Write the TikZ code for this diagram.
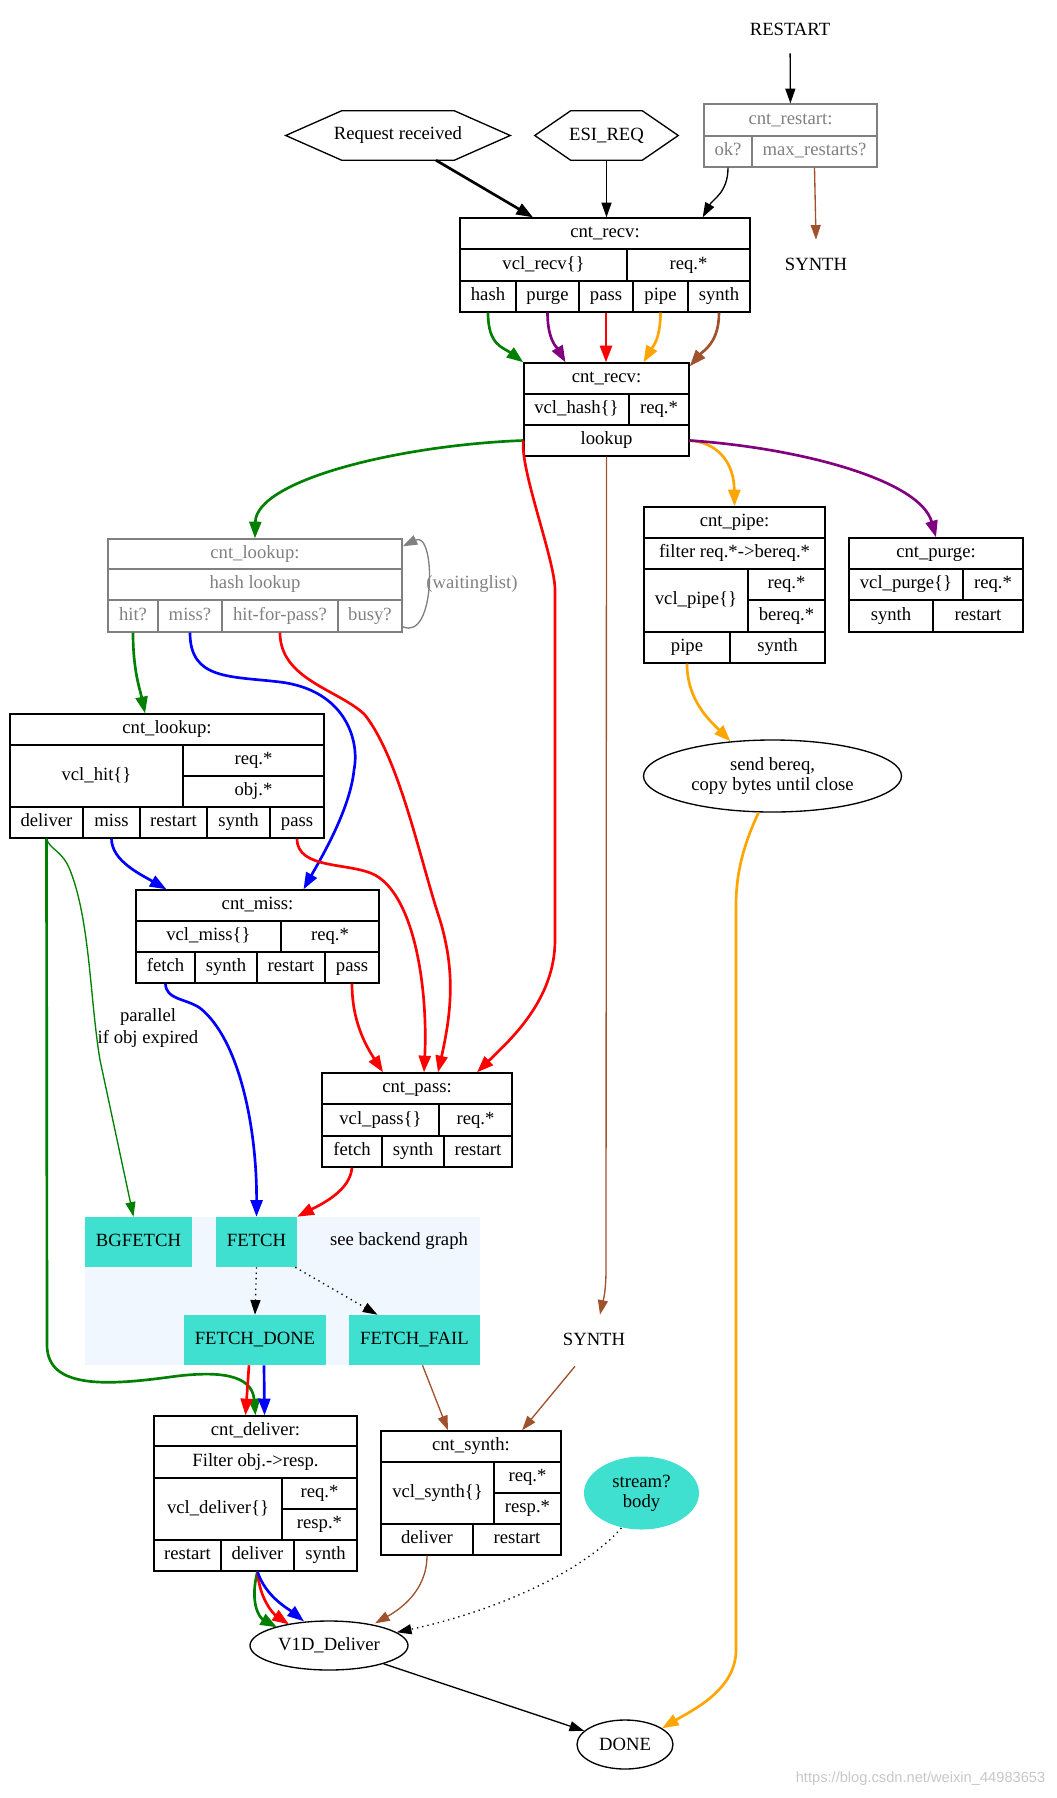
\documentclass[tikz,border=0pt]{standalone}
\usepackage{fontspec}
\setmainfont{Liberation Serif}
\newfontfamily\wmfont{Liberation Sans}
\usetikzlibrary{arrows.meta, calc, shapes.geometric}

\definecolor{vgreen}{RGB}{0,128,0}
\definecolor{vpurple}{RGB}{128,0,128}
\definecolor{vorange}{RGB}{255,165,0}
\definecolor{vbrown}{RGB}{160,82,45}
\definecolor{vturq}{RGB}{64,224,208}
\definecolor{vbg}{RGB}{240,247,255}
\definecolor{vgray}{RGB}{128,128,128}

% one record field, given by its corners: [style]{name}{x1}{y1}{x2}{y2}{text}
\newcommand{\fieldbox}[7][field]{%
  \node[#1, minimum width={(#5-#3)*0.75bp}, minimum height={(#6-#4)*0.75bp}]
    (#2) at ({(#3+#5)/2},{(#4+#6)/2}) {#7};}

\begin{document}
\begin{tikzpicture}[x=0.75bp, y=-0.75bp,
  every node/.style={font=\fontsize{14bp}{16bp}\selectfont},
  field/.style={draw, rectangle, inner sep=0pt, line width=1bp, text height=9.5bp, text depth=3bp},
  gfield/.style={field, draw=vgray, text=vgray},
  fbox/.style={fill=vturq, inner sep=0pt, text height=9.5bp, text depth=3bp},
  plain/.style={inner sep=0pt, minimum height=36bp},
  oval/.style={draw, ellipse, inner sep=0pt, line width=1bp, align=center,
    font=\fontsize{14bp}{15bp}\selectfont},
  flow/.style={line width=1bp, -{Triangle[length=11bp,width=7.5bp]}},
  heavy/.style={line width=2bp, -{Triangle[length=12.5bp,width=9bp]}},
  dots/.style={dash pattern=on 1bp off 3bp},
]
\useasboundingbox (0,0) rectangle (1057,1798);

% entry points
\node[plain] (restart) at (790,29) {RESTART};
\node[plain] (synthA) at (816,264) {SYNTH};
\node[inner sep=0pt, minimum width=168bp, minimum height=36.75bp] (reqrcv) at (398,135.5) {Request received};
\draw[line width=1bp] (reqrcv.west) -- ($(reqrcv.north west)+(56,0)$) -- ($(reqrcv.north east)+(-56,0)$)
  -- (reqrcv.east) -- ($(reqrcv.south east)+(-56,0)$) -- ($(reqrcv.south west)+(56,0)$) -- cycle;
\node[inner sep=0pt, minimum width=107.25bp, minimum height=36.75bp] (esireq) at (606.5,135.5) {ESI\_REQ};
\draw[line width=1bp] (esireq.west) -- ($(esireq.north west)+(36,0)$) -- ($(esireq.north east)+(-36,0)$)
  -- (esireq.east) -- ($(esireq.south east)+(-36,0)$) -- ($(esireq.south west)+(36,0)$) -- cycle;

% cnt_restart
\fieldbox[gfield]{rs-title}{704}{104}{877}{136}{cnt\_restart:}
\fieldbox[gfield]{rs-ok}{704}{136}{752}{167}{ok?}
\fieldbox[gfield]{rs-max}{752}{136}{877}{167}{max\_restarts?}

% cnt_recv
\fieldbox{rv-title}{460}{218}{750}{249}{cnt\_recv:}
\fieldbox{rv-vcl}{460}{249}{627}{281}{vcl\_recv\{\}}
\fieldbox{rv-req}{627}{249}{750}{281}{req.*}
\fieldbox{rv-hash}{460}{281}{516}{312}{hash}
\fieldbox{rv-purge}{516}{281}{579}{312}{purge}
\fieldbox{rv-pass}{579}{281}{633}{312}{pass}
\fieldbox{rv-pipe}{633}{281}{688}{312}{pipe}
\fieldbox{rv-synth}{688}{281}{750}{312}{synth}

% cnt_recv, hash
\fieldbox{hs-title}{524}{363}{689}{394}{cnt\_recv:}
\fieldbox{hs-vcl}{524}{394}{629}{425}{vcl\_hash\{\}}
\fieldbox{hs-req}{629}{394}{689}{425}{req.*}
\fieldbox{hs-lookup}{524}{425}{689}{456}{lookup}

% cnt_lookup (hash lookup)
\fieldbox[gfield]{lk-title}{108}{539}{402}{569}{cnt\_lookup:}
\fieldbox[gfield]{lk-hash}{108}{569}{402}{600}{hash lookup}
\fieldbox[gfield]{lk-hit}{108}{600}{158}{632}{hit?}
\fieldbox[gfield]{lk-miss}{158}{600}{222}{632}{miss?}
\fieldbox[gfield]{lk-hfp}{222}{600}{338}{632}{hit-for-pass?}
\fieldbox[gfield]{lk-busy}{338}{600}{402}{632}{busy?}
\node[text=vgray] (waitlbl) at (472,584) {(waitinglist)};

% cnt_lookup (vcl_hit)
\fieldbox{ht-title}{10}{714}{324}{745}{cnt\_lookup:}
\fieldbox{ht-vcl}{10}{745}{183}{807}{vcl\_hit\{\}}
\fieldbox{ht-req}{183}{745}{324}{776}{req.*}
\fieldbox{ht-obj}{183}{776}{324}{807}{obj.*}
\fieldbox{ht-deliver}{10}{807}{83}{838}{deliver}
\fieldbox{ht-miss}{83}{807}{140}{838}{miss}
\fieldbox{ht-restart}{140}{807}{207}{838}{restart}
\fieldbox{ht-synth}{207}{807}{270}{838}{synth}
\fieldbox{ht-pass}{270}{807}{324}{838}{pass}

% cnt_miss
\fieldbox{ms-title}{136}{890}{379}{921}{cnt\_miss:}
\fieldbox{ms-vcl}{136}{921}{281}{952}{vcl\_miss\{\}}
\fieldbox{ms-req}{281}{921}{379}{952}{req.*}
\fieldbox{ms-fetch}{136}{952}{195}{983}{fetch}
\fieldbox{ms-synth}{195}{952}{257}{983}{synth}
\fieldbox{ms-restart}{257}{952}{325}{983}{restart}
\fieldbox{ms-pass}{325}{952}{379}{983}{pass}

% cnt_pass
\fieldbox{ps-title}{322}{1073}{512}{1104}{cnt\_pass:}
\fieldbox{ps-vcl}{322}{1104}{439}{1136}{vcl\_pass\{\}}
\fieldbox{ps-req}{439}{1104}{512}{1136}{req.*}
\fieldbox{ps-fetch}{322}{1136}{382}{1167}{fetch}
\fieldbox{ps-synth}{382}{1136}{444}{1167}{synth}
\fieldbox{ps-restart}{444}{1136}{512}{1167}{restart}

% cnt_pipe
\fieldbox{pp-title}{644}{507}{825}{538}{cnt\_pipe:}
\fieldbox{pp-filter}{644}{538}{825}{569}{filter req.*->bereq.*}
\fieldbox{pp-vcl}{644}{569}{748}{632}{vcl\_pipe\{\}}
\fieldbox{pp-req}{748}{569}{825}{600}{req.*}
\fieldbox{pp-bereq}{748}{600}{825}{632}{bereq.*}
\fieldbox{pp-pipe}{644}{632}{730}{663}{pipe}
\fieldbox{pp-synth}{730}{632}{825}{663}{synth}
\node[oval, minimum width=193.5bp, minimum height=54bp] (sendbq) at (772.5,776) {send bereq,\\copy bytes until close};

% cnt_purge
\fieldbox{pg-title}{849}{538}{1023}{569}{cnt\_purge:}
\fieldbox{pg-vcl}{849}{569}{963}{600}{vcl\_purge\{\}}
\fieldbox{pg-req}{963}{569}{1023}{600}{req.*}
\fieldbox{pg-synth}{849}{600}{933}{632}{synth}
\fieldbox{pg-restart}{933}{600}{1023}{632}{restart}

% backend cluster
\fill[vbg] (85,1217) rectangle (480,1365);
\fieldbox[fbox]{bgfetch}{85}{1217}{192}{1267}{BGFETCH}
\fieldbox[fbox]{fetch}{216}{1217}{297}{1267}{FETCH}
\fieldbox[fbox]{fdone}{184}{1315}{326}{1365}{FETCH\_DONE}
\fieldbox[fbox]{ffail}{349}{1315}{480}{1365}{FETCH\_FAIL}
\node (seebk) at (399,1241) {see backend graph};
\node[plain] (synthB) at (594,1339) {SYNTH};
\node[align=center, font=\fontsize{14bp}{16.5bp}\selectfont] (parlbl) at (148,1028) {parallel\\if obj expired};

% cnt_deliver
\fieldbox{dl-title}{154}{1416}{357}{1446}{cnt\_deliver:}
\fieldbox{dl-filter}{154}{1446}{357}{1478}{Filter obj.->resp.}
\fieldbox{dl-vcl}{154}{1478}{282}{1540}{vcl\_deliver\{\}}
\fieldbox{dl-req}{282}{1478}{357}{1509}{req.*}
\fieldbox{dl-resp}{282}{1509}{357}{1540}{resp.*}
\fieldbox{dl-restart}{154}{1540}{221}{1571}{restart}
\fieldbox{dl-deliver}{221}{1540}{294}{1571}{deliver}
\fieldbox{dl-synth}{294}{1540}{357}{1571}{synth}

% cnt_synth
\fieldbox{sy-title}{381}{1431}{561}{1462}{cnt\_synth:}
\fieldbox{sy-vcl}{381}{1462}{494}{1524}{vcl\_synth\{\}}
\fieldbox{sy-req}{494}{1462}{561}{1493}{req.*}
\fieldbox{sy-resp}{494}{1493}{561}{1524}{resp.*}
\fieldbox{sy-deliver}{381}{1524}{473}{1555}{deliver}
\fieldbox{sy-restart}{473}{1524}{561}{1555}{restart}

% end states
\node[oval, draw=none, fill=vturq, minimum width=86.25bp, minimum height=54.75bp] (stream) at (641.5,1493) {stream?\\body};
\node[oval, minimum width=118.5bp, minimum height=36.75bp] (v1d) at (329,1645.5) {V1D\_Deliver};
\node[oval, minimum width=72bp, minimum height=36.75bp] (done) at (625,1744.5) {DONE};

% into cnt_recv
\draw[flow] (restart) -- (rs-title);
\draw[heavy] ($(reqrcv.south)+(38,0)$) -- ($(rv-title.north)+(-72,0)$);
\draw[flow] (esireq.south) -- (esireq.south |- rv-title.north);
\draw[flow] (rs-ok.south) .. controls ($(rs-ok.south)+(0,25)$) and ($(rv-title.north east)+(-38,-18)$) .. ($(rv-title.north east)+(-48,0)$);
\draw[flow, vbrown] (rs-max.south) -- (synthA.north);

% vcl_recv returns
\draw[heavy, vgreen] (rv-hash.south) .. controls +(0,33) and +(-20,-15) .. (hs-title.north west);
\draw[heavy, vpurple] (rv-purge.south) .. controls +(0,28) and +(-8,-14) .. ($(hs-title.north)+(-41,0)$);
\draw[heavy, red] (rv-pass.south) -- (rv-pass.south |- hs-title.north);
\draw[heavy, vorange] (rv-pipe.south) .. controls +(0,28) and +(8,-14) .. ($(hs-title.north)+(37,0)$);
\draw[heavy, vbrown] (rv-synth.south) .. controls +(0,30) and +(14,-16) .. ($(hs-title.north east)+(0,4)$);

% vcl_hash returns
\draw[heavy, vgreen] (hs-lookup.west) .. controls (400,445) and (256,480) .. (lk-title.north);
\draw[heavy, red] (hs-lookup.west) .. controls (520,470) and (555,560) .. (555,590) -- (555,940)
  .. controls (555,1000) and (510,1040) .. ($(ps-title.north)+(60,0)$);
\draw[flow, vbrown] (hs-lookup.south) -- (606,1270) .. controls (606,1295) and (602,1305) .. ($(synthB.north)+(6,0)$);
\draw[heavy, vorange] (hs-lookup.east) .. controls (715,442) and (734,460) .. (pp-title.north);
\draw[heavy, vpurple] (hs-lookup.east) .. controls (800,448) and (920,480) .. (pg-title.north);

% lookup
\draw[flow, vgray] ($(lk-busy.south east)+(0,-6)$) .. controls (436,642) and (436,530) .. ($(lk-title.north east)+(0,8)$);
\draw[heavy, vgreen] (lk-hit.south) .. controls +(0,38) and +(-5,-24) .. ($(ht-title.north)+(-22,0)$);
\draw[heavy, blue] (lk-miss.south) .. controls (190,680) and (230,676) .. (280,682)
  .. controls (345,690) and (360,740) .. (354,770) .. controls (350,810) and (320,860) .. ($(ms-title.north)+(46,0)$);
\draw[heavy, red] (lk-hfp.south) .. controls (280,680) and (340,690) .. (365,715)
  .. controls (400,760) and (420,860) .. (440,920) .. controls (455,970) and (452,1010) .. ($(ps-title.north)+(21,0)$);

% vcl_hit returns
\draw[heavy, blue] (ht-miss.south) .. controls +(0,22) and +(-26,-15) .. ($(ms-title.north)+(-91,0)$);
\draw[heavy, red] (ht-pass.south) .. controls (297,870) and (350,862) .. (375,875)
  .. controls (415,897) and (428,990) .. ($(ps-title.north)+(7,0)$);
\draw[heavy, vgreen] (ht-deliver.south) -- (47,1345) .. controls (47,1390) and (110,1385) .. (170,1377)
  .. controls (220,1370) and (252,1375) .. (dl-title.north);
\draw[flow, vgreen] (ht-deliver.south) .. controls (50,850) and (62,850) .. (70,870)
  .. controls (90,920) and (90,1000) .. (100,1060) -- ($(bgfetch.north)+(-5,0)$);

% vcl_miss and vcl_pass returns
\draw[heavy, blue] (ms-fetch.south) .. controls (166,1000) and (185,998) .. (200,1008)
  .. controls (240,1040) and (257,1130) .. (fetch.north);
\draw[heavy, red] (ms-pass.south) .. controls +(0,37) and +(-18,-28) .. ($(ps-title.north)+(-34,0)$);
\draw[heavy, red] (ps-fetch.south) .. controls +(-2,23) and +(25,-13) .. (fetch.north east);

% backend
\draw[flow, dots] (fetch.south) -- (fdone.north);
\draw[flow, dots] ($(fetch.south east)+(-2,0)$) -- ($(ffail.north)+(-37,0)$);
\draw[heavy, red] ($(fdone.south)+(-6,0)$) -- ($(dl-title.north)+(-10,0)$);
\draw[heavy, blue] ($(fdone.south)+(9,0)$) -- ($(dl-title.north)+(9,0)$);
\draw[flow, vbrown] ($(ffail.south)+(8,0)$) -- ($(sy-title.north)+(-23,0)$);
\draw[flow, vbrown] ($(synthB.south)+(-19,3)$) -- ($(sy-title.north)+(51,0)$);

% delivery
\draw[heavy, vgreen] (dl-deliver.south) .. controls +(-8,30) and +(-18,-10) .. ($(v1d.north)+(-52,7)$);
\draw[heavy, red] (dl-deliver.south) .. controls +(2,28) and +(-15,-10) .. ($(v1d.north)+(-40,4)$);
\draw[heavy, blue] (dl-deliver.south) .. controls +(8,25) and +(-15,-12) .. ($(v1d.north)+(-25,1)$);
\draw[flow, vbrown] (sy-deliver.south) .. controls +(0,35) and +(25,-14) .. ($(v1d.north)+(46,3)$);
\draw[flow, dots] (stream.240) .. controls (585,1570) and (500,1610) .. (v1d.11);
\draw[flow] (v1d) -- (done);

% pipe
\draw[heavy, vorange] (pp-pipe.south) .. controls +(0,37) and +(-20,-20) .. ($(sendbq.north)+(-42,2)$);
\draw[heavy, vorange] ($(sendbq.south)+(-14,0)$) .. controls +(-14,30) and +(0,-35) .. (736,906) -- (736,1650)
  .. controls +(0,40) and +(30,-18) .. ($(done.north)+(37,9)$);

\node[font=\wmfont\fontsize{11bp}{13bp}\selectfont, text=black!22, anchor=east] (wmark) at (1050,1779) {https://blog.csdn.net/weixin\_44983653};
\end{tikzpicture}
\end{document}
